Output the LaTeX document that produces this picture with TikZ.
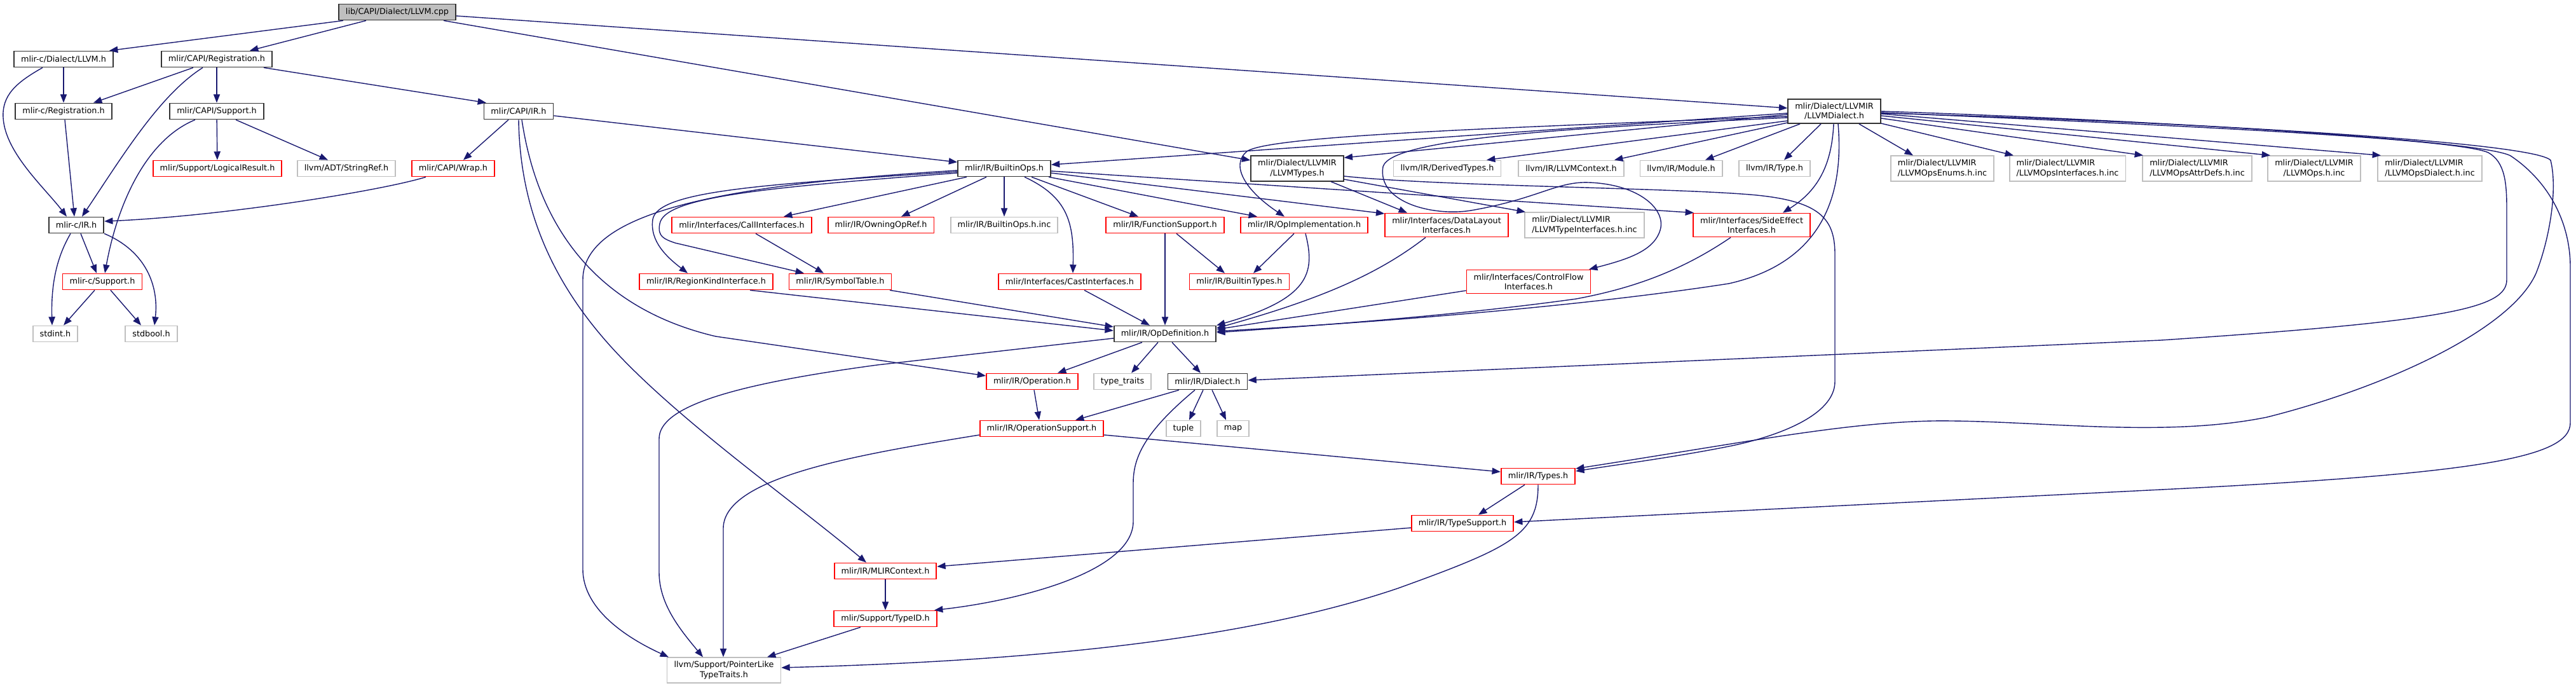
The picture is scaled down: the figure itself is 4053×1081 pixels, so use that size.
\documentclass[tikz,border=0pt]{standalone}
\usepackage{fontspec}
\setmainfont{DejaVu Sans}
\usetikzlibrary{arrows.meta}

\definecolor{edgeblue}{HTML}{191970}
\definecolor{boxred}{HTML}{FF0000}
\definecolor{boxgray}{HTML}{BFBFBF}

\begin{document}
\begin{tikzpicture}[x=0.01cm,y=-0.01cm,>={Triangle[length=3.8pt,width=2.9pt]},
  box/.style={draw=black!80,line width=0.5pt,fill=white,inner xsep=0.11cm,inner ysep=0.06cm,
    minimum height=0.25cm,align=center,font=\fontsize{3.64}{4.3}\selectfont},
  docbox/.style={box},
  redbox/.style={box,draw=boxred},
  extbox/.style={box,draw=boxgray},
  rootbox/.style={box,fill=boxgray},
  dep/.style={->,draw=edgeblue,line width=0.4pt}]
  \useasboundingbox (0,0) rectangle (4053,1081);

  % nodes, row by row
  \node[rootbox] (root) at (625,19) {lib/CAPI/Dialect/LLVM.cpp};
  \node[docbox] (llvmc) at (100,93) {mlir-c/Dialect/LLVM.h};
  \node[docbox] (capireg) at (341,93) {mlir/CAPI/Registration.h};
  \node[docbox] (creg) at (100,175) {mlir-c/Registration.h};
  \node[docbox] (capisup) at (341,175) {mlir/CAPI/Support.h};
  \node[docbox] (capiir) at (816,175) {mlir/CAPI/IR.h};
  \node[docbox] (lldialect) at (2886,175) {mlir/Dialect/LLVMIR\\/LLVMDialect.h};
  \node[redbox] (logres) at (342,265) {mlir/Support/LogicalResult.h};
  \node[extbox] (strref) at (545,265) {llvm/ADT/StringRef.h};
  \node[redbox] (wrap) at (713,265) {mlir/CAPI/Wrap.h};
  \node[docbox] (bops) at (1580,265) {mlir/IR/BuiltinOps.h};
  \node[docbox] (lltypes) at (2041,265) {mlir/Dialect/LLVMIR\\/LLVMTypes.h};
  \node[extbox] (derived) at (2277,265) {llvm/IR/DerivedTypes.h};
  \node[extbox] (llctx) at (2472,265) {llvm/IR/LLVMContext.h};
  \node[extbox] (module) at (2645,265) {llvm/IR/Module.h};
  \node[extbox] (irtype) at (2792,265) {llvm/IR/Type.h};
  \node[extbox,align=left] (enums) at (3056,265) {mlir/Dialect/LLVMIR\\/LLVMOpsEnums.h.inc};
  \node[extbox,align=left] (opsif) at (3253,265) {mlir/Dialect/LLVMIR\\/LLVMOpsInterfaces.h.inc};
  \node[extbox,align=left] (attrs) at (3457,265) {mlir/Dialect/LLVMIR\\/LLVMOpsAttrDefs.h.inc};
  \node[extbox] (opsinc) at (3641,265) {mlir/Dialect/LLVMIR\\/LLVMOps.h.inc};
  \node[extbox,align=left] (opsdia) at (3823,265) {mlir/Dialect/LLVMIR\\/LLVMOpsDialect.h.inc};
  \node[docbox] (cir) at (120,354) {mlir-c/IR.h};
  \node[redbox] (callif) at (1167,354) {mlir/Interfaces/CallInterfaces.h};
  \node[redbox] (owning) at (1386,354) {mlir/IR/OwningOpRef.h};
  \node[extbox] (bopsinc) at (1580,354) {mlir/IR/BuiltinOps.h.inc};
  \node[redbox] (funcsup) at (1833,354) {mlir/IR/FunctionSupport.h};
  \node[redbox] (opimpl) at (2052,354) {mlir/IR/OpImplementation.h};
  \node[redbox] (datalayout) at (2276,354) {mlir/Interfaces/DataLayout\\Interfaces.h};
  \node[extbox,align=left] (typeif) at (2493,354) {mlir/Dialect/LLVMIR\\/LLVMTypeInterfaces.h.inc};
  \node[redbox] (sideeff) at (2756,354) {mlir/Interfaces/SideEffect\\Interfaces.h};
  \node[redbox] (csup) at (161,443) {mlir-c/Support.h};
  \node[redbox] (regkind) at (1111,443) {mlir/IR/RegionKindInterface.h};
  \node[redbox] (symtab) at (1322,443) {mlir/IR/SymbolTable.h};
  \node[redbox] (castif) at (1683,443) {mlir/Interfaces/CastInterfaces.h};
  \node[redbox] (btypes) at (1950,443) {mlir/IR/BuiltinTypes.h};
  \node[redbox] (ctrlflow) at (2405,443) {mlir/Interfaces/ControlFlow\\Interfaces.h};
  \node[extbox] (stdint) at (87,525) {stdint.h};
  \node[extbox] (stdbool) at (238,525) {stdbool.h};
  \node[docbox] (opdef) at (1833,525) {mlir/IR/OpDefinition.h};
  \node[redbox] (operation) at (1624,600) {mlir/IR/Operation.h};
  \node[extbox] (typetraits) at (1766,600) {type\_traits};
  \node[docbox] (dial) at (1900,600) {mlir/IR/Dialect.h};
  \node[redbox] (opsupport) at (1639,674) {mlir/IR/OperationSupport.h};
  \node[extbox] (tuple) at (1862,674) {tuple};
  \node[extbox] (map) at (1940,674) {map};
  \node[redbox] (types) at (2420,749) {mlir/IR/Types.h};
  \node[redbox] (typesupp) at (2301,823) {mlir/IR/TypeSupport.h};
  \node[redbox] (mlirctx) at (1393,898) {mlir/IR/MLIRContext.h};
  \node[redbox] (typeid) at (1393,973) {mlir/Support/TypeID.h};
  \node[extbox] (ptrlike) at (1139,1054) {llvm/Support/PointerLike\\TypeTraits.h};

  % from the .cpp file
  \draw[dep] (root.south -| 540,0) -- (llvmc.north -| 172,0);
  \draw[dep] (root.south -| 576,0) -- (capireg.north -| 393,0);
  \draw[dep] (root.east |- 0,25) -- (lldialect.west |- 0,170);
  \draw[dep] (root.south -| 698,0) -- (lltypes.west |- 0,252);

  % C API headers
  \draw[dep] (llvmc) -- (creg);
  \draw[dep] (llvmc.south -| 67,0) .. controls (25,130) and (3,150) .. (5,185)
    .. controls (8,240) and (70,295) .. (cir.north -| 105,0);
  \draw[dep] (capireg.south -| 304,0) -- (creg.north -| 147,0);
  \draw[dep] (capireg.south -| 319,0) .. controls (250,150) and (190,250) .. (cir.north -| 129,0);
  \draw[dep] (capireg) -- (capisup);
  \draw[dep] (capireg.south -| 415,0) -- (capiir.north -| 765,0);
  \draw[dep] (creg.south -| 102,0) -- (cir.north -| 117,0);
  \draw[dep] (capisup.south -| 307,0) .. controls (230,220) and (185,320) .. (csup.north -| 165,0);
  \draw[dep] (capisup) -- (logres);
  \draw[dep] (capisup.south -| 371,0) -- (strref.north -| 516,0);
  \draw[dep] (capiir.south -| 800,0) -- (wrap.north -| 729,0);
  \draw[dep] (capiir.east |- 0,182) -- (bops.west |- 0,255);
  \draw[dep] (capiir.south -| 816,0) .. controls (818,330) and (870,450) .. (975,560)
    .. controls (1080,670) and (1250,790) .. (mlirctx.north -| 1363,0);
  \draw[dep] (capiir.south -| 821,0) .. controls (850,380) and (960,490) .. (1126,529)
    -- (operation.west |- 0,591);
  \draw[dep] (wrap.south -| 670,0) .. controls (600,300) and (350,340) .. (cir.east |- 0,348);
  \draw[dep] (cir.south -| 111,0) .. controls (92,400) and (80,440) .. (stdint.north -| 82,0);
  \draw[dep] (cir.south -| 127,0) -- (csup.north -| 152,0);
  \draw[dep] (cir.south east) .. controls (230,395) and (250,450) .. (stdbool.north -| 243,0);
  \draw[dep] (csup.south -| 149,0) -- (stdint.north -| 100,0);
  \draw[dep] (csup.south -| 174,0) -- (stdbool.north -| 222,0);

  % BuiltinOps.h
  \draw[dep] (bops.west |- 0,268) .. controls (1150,290) and (917,330) .. (917,440) -- (917,895)
    .. controls (917,960) and (990,1005) .. (ptrlike.north -| 1052,0);
  \draw[dep] (bops.west |- 0,270) .. controls (1200,290) and (1035,300) .. (1027,345)
    .. controls (1022,380) and (1050,405) .. (regkind.north -| 1082,0);
  \draw[dep] (bops.west |- 0,272) .. controls (1200,295) and (1045,310) .. (1038,352)
    .. controls (1034,372) and (1045,376) .. (1062,382) -- (symtab.north -| 1265,0);
  \draw[dep] (bops.south -| 1521,0) -- (callif.north -| 1233,0);
  \draw[dep] (bops.south -| 1552,0) -- (owning.north -| 1418,0);
  \draw[dep] (bops) -- (bopsinc);
  \draw[dep] (bops.south -| 1612,0) .. controls (1680,310) and (1690,350) .. (castif.north -| 1688,0);
  \draw[dep] (bops.south -| 1623,0) -- (funcsup.north -| 1791,0);
  \draw[dep] (bops.south -| 1650,0) -- (opimpl.north -| 1978,0);
  \draw[dep] (bops.east |- 0,272) -- (datalayout.west |- 0,336);
  \draw[dep] (bops.east |- 0,269) -- (sideeff.north -| 2665,0);

  % LLVMTypes.h
  \draw[dep] (lltypes.south -| 2094,0) -- (datalayout.north -| 2214,0);
  \draw[dep] (lltypes.east |- 0,282) -- (typeif.north -| 2400,0);
  \draw[dep] (lltypes.east |- 0,277) .. controls (2250,292) and (2600,295) .. (2740,305)
    .. controls (2860,313) and (2887,340) .. (2887,400) -- (2887,600)
    .. controls (2887,655) and (2790,688) .. (2720,702)
    .. controls (2640,718) and (2550,730) .. (types.east |- 0,741);

  % LLVMDialect.h
  \draw[dep] (lldialect.west |- 0,178) -- (bops.east |- 0,259);
  \draw[dep] (lldialect.west |- 0,180) -- (lltypes.east |- 0,248);
  \draw[dep] (lldialect.west |- 0,183) .. controls (2400,200) and (2000,212) .. (1962,238)
    .. controls (1935,260) and (1960,300) .. (opimpl.north -| 2021,0);
  \draw[dep] (lldialect.west |- 0,185) .. controls (2500,200) and (2190,215) .. (2176,262)
    .. controls (2166,320) and (2260,342) .. (2320,330)
    .. controls (2420,312) and (2450,285) .. (2500,287)
    .. controls (2580,290) and (2622,330) .. (2612,362)
    .. controls (2602,395) and (2560,408) .. (ctrlflow.north -| 2500,0);
  \draw[dep] (lldialect.west |- 0,190) -- (derived.north -| 2339,0);
  \draw[dep] (lldialect.west |- 0,193) -- (llctx.north -| 2540,0);
  \draw[dep] (lldialect.south -| 2832,0) -- (module.north -| 2683,0);
  \draw[dep] (lldialect.south -| 2865,0) -- (irtype.north -| 2807,0);
  \draw[dep] (lldialect.south -| 2885,0) .. controls (2882,260) and (2860,300) .. (sideeff.north -| 2805,0);
  \draw[dep] (lldialect.south -| 2892,0) .. controls (2900,290) and (2880,410) .. (2720,446)
    .. controls (2500,480) and (2200,505) .. (opdef.east |- 0,521);
  \draw[dep] (lldialect.south -| 2925,0) -- (enums.north -| 3010,0);
  \draw[dep] (lldialect.east |- 0,194) -- (opsif.north -| 3168,0);
  \draw[dep] (lldialect.east |- 0,186) -- (attrs.north -| 3372,0);
  \draw[dep] (lldialect.east |- 0,182) -- (opsinc.north -| 3572,0);
  \draw[dep] (lldialect.east |- 0,179) -- (opsdia.north -| 3746,0);
  \draw[dep] (lldialect.east |- 0,177) .. controls (3300,192) and (3860,215) .. (3915,240)
    .. controls (3942,255) and (3944,290) .. (3944,330) -- (3944,440)
    .. controls (3944,485) and (3850,505) .. (3400,535) -- (dial.east |- 0,598);
  \draw[dep] (lldialect.east |- 0,175) .. controls (3300,186) and (3900,218) .. (3950,245)
    .. controls (4010,285) and (4044,350) .. (4044,420) -- (4044,665)
    .. controls (4044,720) and (3900,745) .. (3400,770) -- (typesupp.east |- 0,821);
  \draw[dep] (lldialect.east |- 0,178) .. controls (3400,190) and (3985,222) .. (4013,252)
    .. controls (4025,300) and (4010,380) .. (3990,430)
    .. controls (3950,520) and (3750,610) .. (3567,656)
    .. controls (3400,690) and (3200,660) .. (3040,662)
    .. controls (2900,665) and (2750,695) .. (types.east |- 0,737);

  % interfaces down to OpDefinition.h
  \draw[dep] (callif.south -| 1189,0) -- (symtab.north -| 1296,0);
  \draw[dep] (regkind.south -| 1180,0) -- (opdef.west |- 0,520);
  \draw[dep] (symtab.south -| 1400,0) -- (opdef.west |- 0,514);
  \draw[dep] (castif.south -| 1706,0) -- (opdef.north -| 1809,0);
  \draw[dep] (funcsup) -- (opdef);
  \draw[dep] (funcsup.south -| 1851,0) -- (btypes.north -| 1927,0);
  \draw[dep] (opimpl.south -| 2036,0) -- (btypes.north -| 1972,0);
  \draw[dep] (opimpl.south -| 2054,0) .. controls (2070,430) and (2060,470) .. (opdef.north east);
  \draw[dep] (datalayout.south -| 2243,0) .. controls (2170,430) and (2080,470) .. (opdef.east |- 0,516);
  \draw[dep] (ctrlflow.west |- 0,457) -- (opdef.east |- 0,518);
  \draw[dep] (sideeff.south -| 2723,0) .. controls (2640,430) and (2560,455) .. (2480,470)
    .. controls (2300,495) and (2100,510) .. (opdef.east |- 0,523);

  % OpDefinition.h and below
  \draw[dep] (opdef.south -| 1797,0) -- (operation.north -| 1664,0);
  \draw[dep] (opdef.south -| 1822,0) -- (typetraits.north -| 1780,0);
  \draw[dep] (opdef.south -| 1844,0) -- (dial.north -| 1889,0);
  \draw[dep] (opdef.west |- 0,532) -- (1380,574) .. controls (1150,605) and (1037,640) .. (1037,690)
    -- (1037,900) .. controls (1037,950) and (1070,990) .. (ptrlike.north -| 1106,0);
  \draw[dep] (operation.south -| 1627,0) -- (opsupport.north -| 1635,0);
  \draw[dep] (dial.south -| 1855,0) -- (opsupport.north -| 1692,0);
  \draw[dep] (dial.south -| 1893,0) -- (tuple.north -| 1871,0);
  \draw[dep] (dial.south -| 1907,0) -- (map.north -| 1929,0);
  \draw[dep] (dial.south -| 1880,0) .. controls (1800,680) and (1783,720) .. (1783,760) -- (1783,820)
    .. controls (1783,900) and (1600,945) .. (typeid.north -| 1470,0);
  \draw[dep] (opsupport.west |- 0,684) .. controls (1350,715) and (1140,750) .. (1138,830)
    -- (ptrlike.north -| 1138,0);
  \draw[dep] (opsupport.east |- 0,684) -- (types.west |- 0,742);
  \draw[dep] (types.south -| 2399,0) -- (typesupp.north -| 2326,0);
  \draw[dep] (types.south -| 2420,0) .. controls (2420,840) and (2380,860) .. (2200,925)
    .. controls (1950,1010) and (1600,1040) .. (ptrlike.east |- 0,1050);
  \draw[dep] (typesupp.west |- 0,830) -- (mlirctx.east |- 0,891);
  \draw[dep] (mlirctx) -- (typeid);
  \draw[dep] (typeid.south -| 1354,0) -- (ptrlike.north -| 1207,0);
\end{tikzpicture}
\end{document}
